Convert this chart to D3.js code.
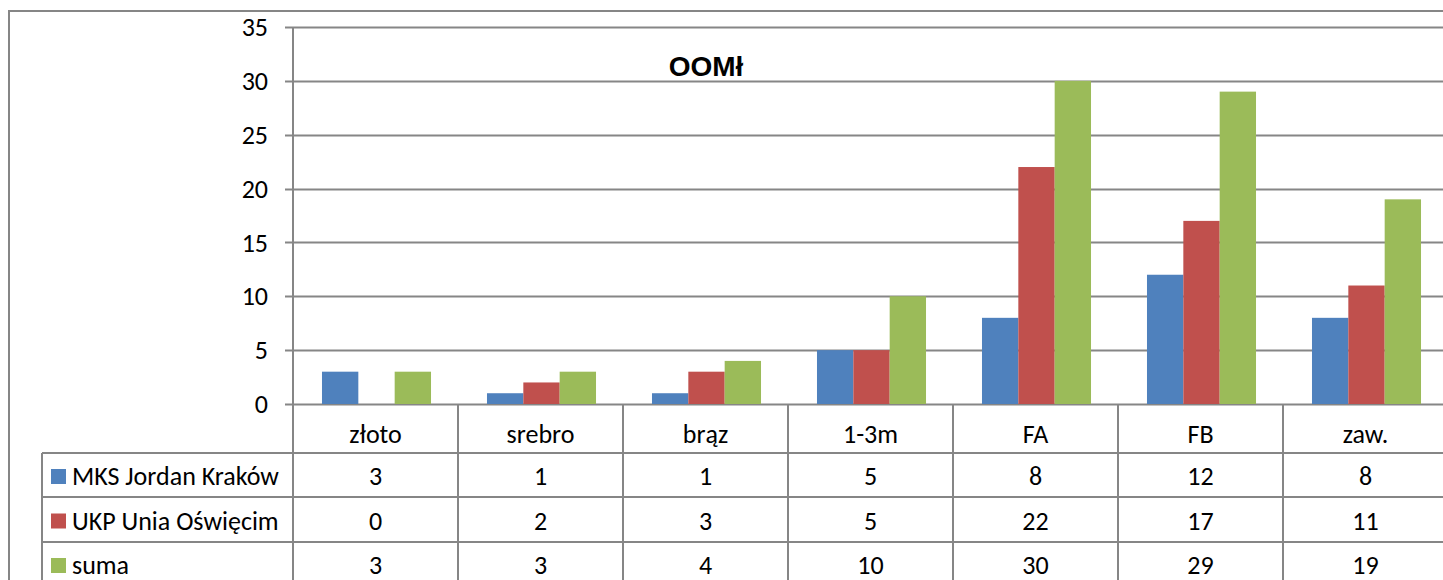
<!DOCTYPE html>
<html><head><meta charset="utf-8">
<script src="https://cdn.jsdelivr.net/npm/d3@7"></script>
<style>body{margin:0;background:#fff;}svg{display:block;}</style>
</head><body>
<script>
const categories = ["złoto","srebro","brąz","1-3m","FA","FB","zaw."];
const seriesNames = ["MKS Jordan Kraków","UKP Unia Oświęcim","suma"];
const jordan = [3,1,1,5,8,12,8];
const unia = [0,2,3,5,22,17,11];
const suma = [3,3,4,10,30,29,19];
const yTicks = [0,5,10,15,20,25,30,35];
const title = "OOMł";
const colors = ["#4F81BD","#C0504D","#9BBB59"];
const series = [jordan, unia, suma];

const W = 1443, H = 580;
const svg = d3.select("body").append("svg").attr("width", W).attr("height", H);
const font = "Carlito, Calibri, 'Open Sans', sans-serif";
const grid = "#868686";
const fs = 26;

// chart border
svg.append("rect").attr("x", 9).attr("y", 11).attr("width", W + 20).attr("height", H + 20)
  .attr("fill", "none").attr("stroke", grid).attr("stroke-width", 2);

const x0 = 293, catW = 165;
const x = d3.scaleBand().domain(categories).range([x0, x0 + catW * categories.length]).paddingInner(0).paddingOuter(0);
const y = d3.scaleLinear().domain([0, 35]).range([404, 27]);
const xs = d3.scaleBand().domain(d3.range(3)).range([1, catW + 1]).paddingInner(0).paddingOuter(0.77);

// gridlines
svg.append("g").selectAll("line").data(yTicks).join("line")
  .attr("x1", x0 - 8).attr("x2", W).attr("y1", d => Math.round(y(d)) + 0.5).attr("y2", d => Math.round(y(d)) + 0.5)
  .attr("stroke", grid).attr("stroke-width", 2);

// y labels
svg.append("g").selectAll("text").data(yTicks).join("text")
  .attr("x", 268).attr("y", d => y(d)).attr("dy", "0.35em").attr("text-anchor", "end")
  .attr("font-family", font).attr("font-size", fs).attr("fill", "#000").text(d => d);

// y axis line
svg.append("line").attr("x1", x0).attr("x2", x0).attr("y1", 27).attr("y2", 404).attr("stroke", grid).attr("stroke-width", 2);

// bars
series.forEach((vals, si) => {
  svg.append("g").selectAll("rect").data(vals).join("rect")
    .attr("x", (d, i) => x(categories[i]) + xs(si))
    .attr("y", d => y(d))
    .attr("width", xs.bandwidth())
    .attr("height", d => y(0) - y(d))
    .attr("fill", colors[si]);
});

// title
svg.append("text").attr("x", 706).attr("y", 76).attr("text-anchor", "middle")
  .attr("font-family", "'Liberation Sans', Arial, sans-serif").attr("font-weight", "bold").attr("font-size", 28)
  .text(title);

// data table
const rowTops = [404, 453, 497, 542, 586];
const tbl = svg.append("g");
tbl.selectAll("line.v").data(d3.range(categories.length + 1)).join("line")
  .attr("x1", i => x0 + i * catW).attr("x2", i => x0 + i * catW).attr("y1", 404).attr("y2", H)
  .attr("stroke", grid).attr("stroke-width", 2);
tbl.append("line").attr("x1", 42).attr("x2", 42).attr("y1", 453).attr("y2", H).attr("stroke", grid).attr("stroke-width", 2);
tbl.selectAll("line.h").data(rowTops.slice(1, 4)).join("line")
  .attr("x1", 42).attr("x2", W).attr("y1", d => d).attr("y2", d => d).attr("stroke", grid).attr("stroke-width", 2);
tbl.selectAll("text.c").data(categories).join("text")
  .attr("x", d => x(d) + catW / 2).attr("y", 434).attr("dy", "0.35em").attr("text-anchor", "middle")
  .attr("font-family", font).attr("font-size", fs).text(d => d);
series.forEach((vals, si) => {
  const cy = (rowTops[si + 1] + rowTops[si + 2]) / 2 + 1;
  tbl.append("rect").attr("x", 51).attr("y", cy - 7).attr("width", 15).attr("height", 15).attr("fill", colors[si]);
  tbl.append("text").attr("x", 72).attr("y", cy).attr("dy", "0.35em").attr("font-family", font).attr("font-size", fs).text(seriesNames[si]);
  tbl.append("g").selectAll("text").data(vals).join("text")
    .attr("x", (d, i) => x(categories[i]) + catW / 2).attr("y", cy).attr("dy", "0.35em").attr("text-anchor", "middle")
    .attr("font-family", font).attr("font-size", fs).text(d => d);
});
</script>
</body></html>
